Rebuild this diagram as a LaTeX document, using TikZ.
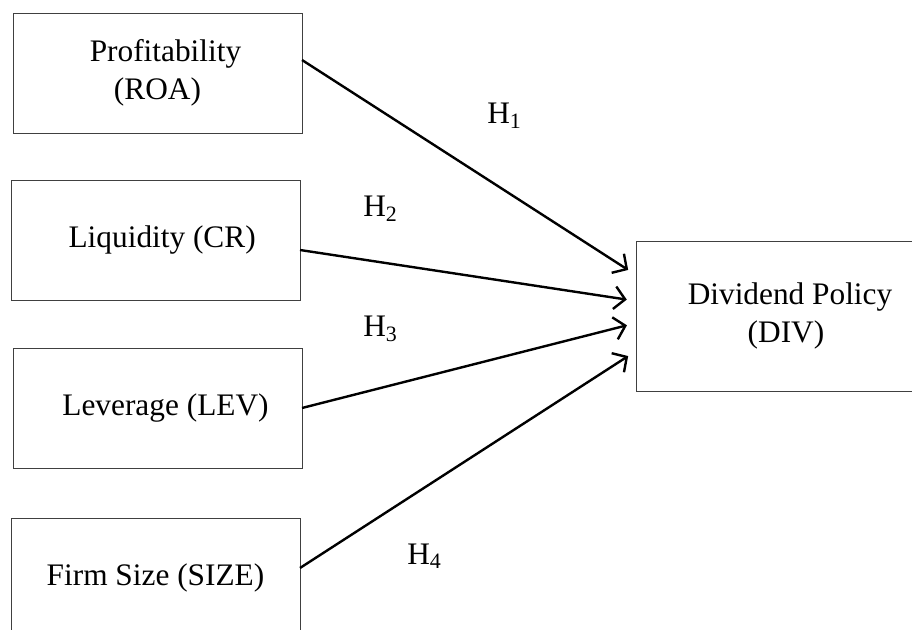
\documentclass[tikz,border=0pt]{standalone}
\usepackage{fontspec}
\setmainfont{Liberation Serif}
\usetikzlibrary{arrows.meta}

\begin{document}
\begin{tikzpicture}[
    x = 0.75pt,
    y = -0.75pt,
    varbox/.style = {draw=black!75, line width=0.7pt, rectangle, inner sep=0pt,
      outer sep=0pt, minimum width=216.75pt, minimum height=90pt, align=center,
      font=\fontsize{23.5}{28.5}\selectfont},
    hyp/.style = {draw, line width=1.8pt, -{Straight Barb[length=8pt, width=17pt, line width=1.8pt]},
      shorten >=7pt},
    hlabel/.style = {anchor=base west, inner sep=0pt, font=\fontsize{23.5}{28.5}\selectfont},
    ]
    \useasboundingbox (0,0) rectangle (912,630);
    \clip (0,0) rectangle (912,630);
    % independent variables
    \node[varbox] (prof) at (157.5, 73) {\hspace{12pt}Profitability\\(ROA)};
    \node[varbox] (liq) at (155.5, 240) {\hspace{10pt}Liquidity (CR)};
    \node[varbox] (lev) at (157.5, 408) {\hspace{12pt}Leverage (LEV)};
    \node[varbox] (size) at (155.5, 578) {Firm Size (SIZE)};
    % dependent variable
    \node[varbox, minimum width=225pt, minimum height=112.5pt] (div) at (786, 316)
    {\hspace{6pt}Dividend Policy\\(DIV)};
    % hypotheses
    \draw[hyp] ([yshift=9.75pt]prof.east) -- ([yshift=30.75pt]div.west);
    \draw[hyp] ([yshift=-7.5pt]liq.east) -- ([yshift=11.25pt]div.west);
    \draw[hyp] (lev.east) -- ([yshift=-5.25pt]div.west);
    \draw[hyp] ([yshift=7.5pt]size.east) -- ([yshift=-26.25pt]div.west);
    % labels
    \node[hlabel] (h1) at (487, 124) {H\textsubscript{1}};
    \node[hlabel] (h2) at (363, 217) {H\textsubscript{2}};
    \node[hlabel] (h3) at (363, 337) {H\textsubscript{3}};
    \node[hlabel] (h4) at (407, 564) {H\textsubscript{4}};
\end{tikzpicture}
\end{document}
